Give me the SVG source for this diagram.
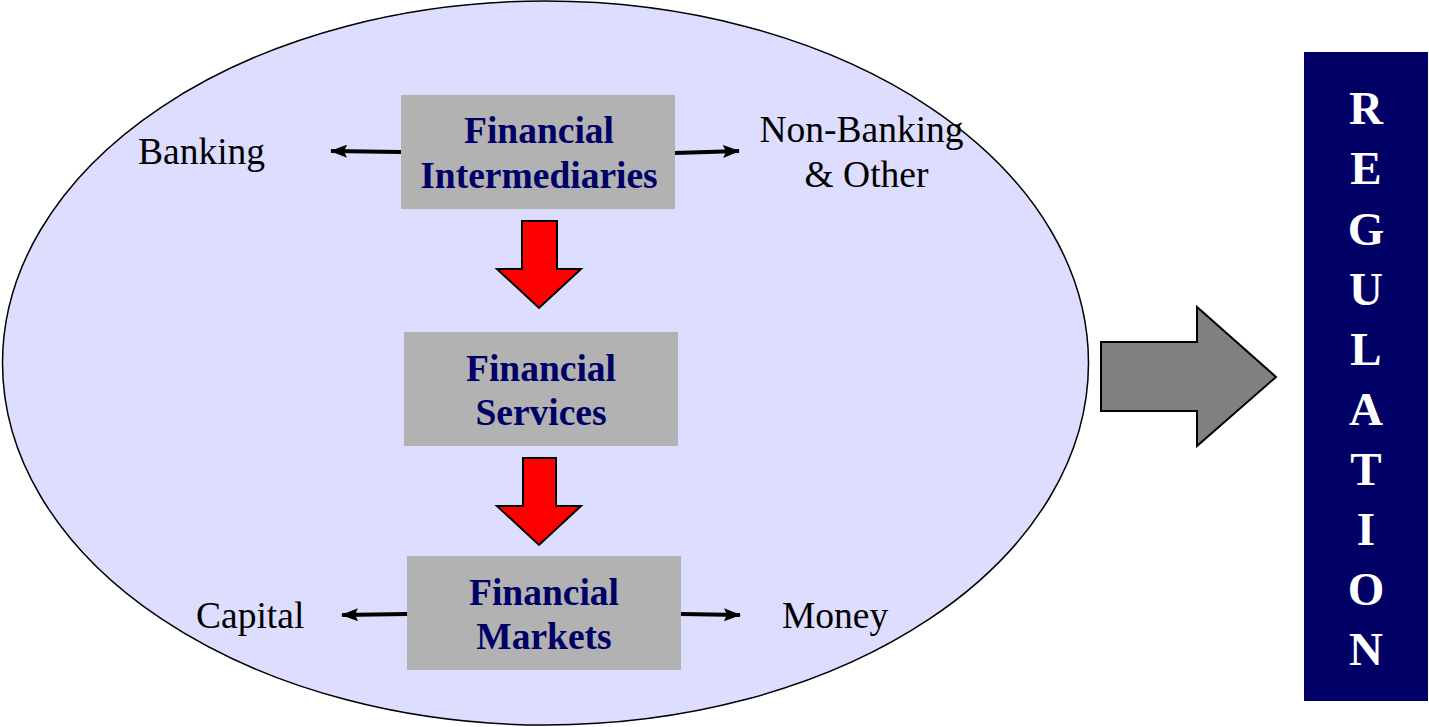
<svg xmlns="http://www.w3.org/2000/svg" width="1429" height="727" viewBox="0 0 1429 727">
<defs>
<style>
.box{fill:#b2b2b2;}
.bt{font-family:"Liberation Serif",serif;font-weight:bold;font-size:37.5px;fill:#000066;text-anchor:middle;}
.lt{font-family:"Liberation Serif",serif;font-size:37.5px;fill:#000;}
.con{stroke:#000;stroke-width:4;fill:none;marker-end:url(#ah);}
.red{fill:#ff0000;stroke:#000;stroke-width:2;stroke-linejoin:miter;}
.rg{font-family:"Liberation Serif",serif;font-weight:bold;font-size:47px;fill:#fff;text-anchor:middle;}
</style>
<marker id="ah" viewBox="0 0 17 13" refX="16" refY="6.5" markerWidth="17" markerHeight="13" orient="auto" markerUnits="userSpaceOnUse">
<path d="M0,0 L17,6.5 L0,13 L3,6.5 Z" fill="#000"/>
</marker>
</defs>
<rect width="1429" height="727" fill="#fff"/>
<g id="ellipse">
<ellipse cx="545.5" cy="363" rx="543" ry="362" fill="#ddddff" stroke="#000" stroke-width="1.5"/>
</g>
<g id="connectors">
<line class="con" x1="401" y1="152" x2="331" y2="151"/>
<line class="con" x1="675" y1="153" x2="739" y2="151"/>
<line class="con" x1="407" y1="614" x2="342" y2="615"/>
<line class="con" x1="681" y1="614" x2="740" y2="615"/>
<polygon class="red" points="522,221 557,221 557,269 581,269 539,308 497,269 522,269"/>
<polygon class="red" points="523,458 556,458 556,506 581,506 539,545 497,506 523,506"/>
<polygon fill="#808080" stroke="#000" stroke-width="2" points="1101,342 1197,342 1197,307 1276,377 1197,446 1197,411 1101,411"/>
</g>
<g id="fin-intermediaries">
<rect class="box" x="401" y="95" width="274" height="114"/>
<text class="bt" x="539" y="143">Financial</text>
<text class="bt" x="539" y="188">Intermediaries</text>
</g>
<g id="fin-services">
<rect class="box" x="404" y="332" width="274" height="114"/>
<text class="bt" x="541" y="381">Financial</text>
<text class="bt" x="541" y="425">Services</text>
</g>
<g id="fin-markets">
<rect class="box" x="407" y="556" width="274" height="114"/>
<text class="bt" x="544" y="605">Financial</text>
<text class="bt" x="544" y="649">Markets</text>
</g>
<g id="banking"><text class="lt" x="138" y="164">Banking</text></g>
<g id="nonbanking">
<text class="lt" x="861.5" y="142" text-anchor="middle">Non-Banking</text>
<text class="lt" x="866.5" y="187" text-anchor="middle">&amp; Other</text>
</g>
<g id="capital"><text class="lt" x="196" y="628">Capital</text></g>
<g id="money"><text class="lt" x="782" y="628">Money</text></g>
<g id="regulation">
<rect x="1304" y="52" width="124" height="649" fill="#000066"/>
<text class="rg" x="1366" y="124">R</text>
<text class="rg" x="1366" y="184">E</text>
<text class="rg" x="1366" y="245">G</text>
<text class="rg" x="1366" y="305">U</text>
<text class="rg" x="1366" y="365">L</text>
<text class="rg" x="1366" y="425">A</text>
<text class="rg" x="1366" y="485">T</text>
<text class="rg" x="1366" y="545">I</text>
<text class="rg" x="1366" y="605">O</text>
<text class="rg" x="1366" y="665">N</text>
</g>
</svg>
